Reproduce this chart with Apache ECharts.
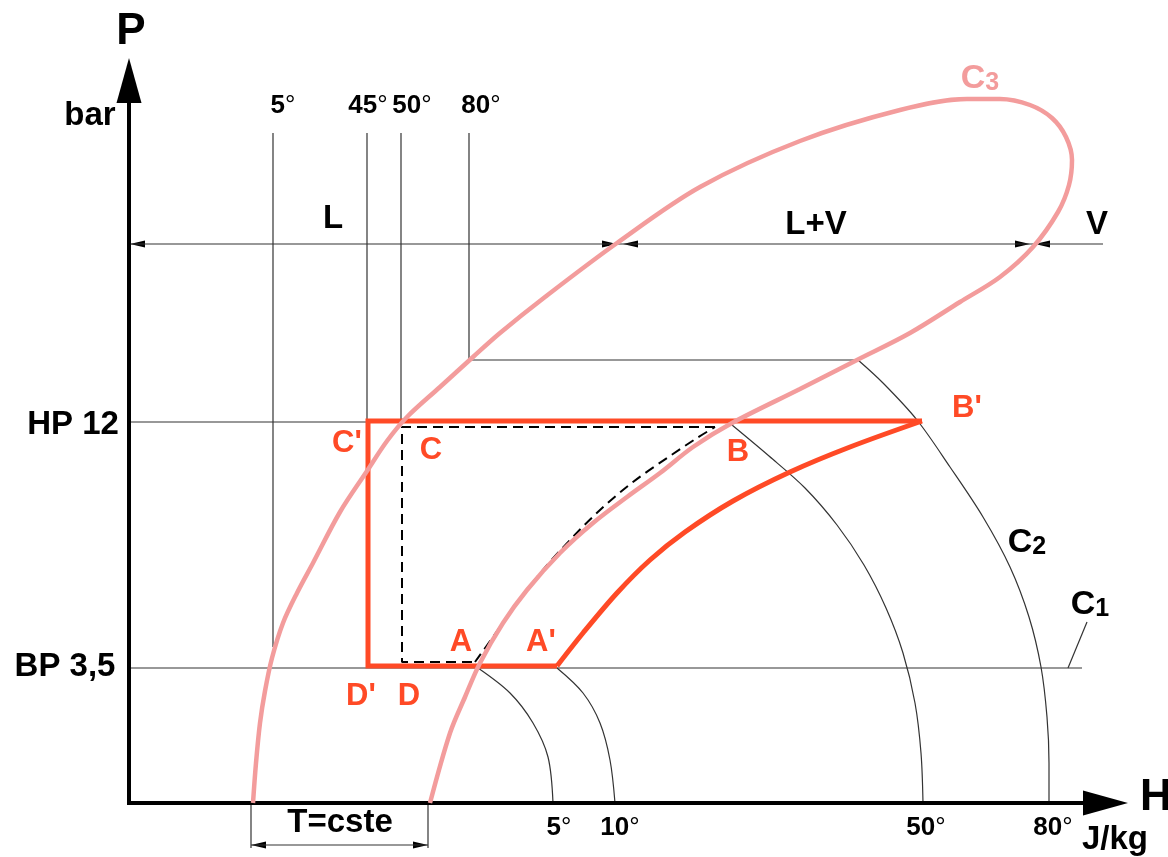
<!DOCTYPE html>
<html>
<head>
<meta charset="utf-8">
<script src="https://cdn.jsdelivr.net/npm/echarts@6/dist/echarts.min.js"></script>
<style>
  html, body { margin: 0; padding: 0; background: #fff; }
  #chart { width: 1168px; height: 857px; }
</style>
</head>
<body>
<div id="chart"></div>
<script>
// Diagram units: H to the right, P upwards, origin at the corner of the axes.

// saturation dome C3 (liquid branch, top, vapour branch)
const domeC3 = [
  [124, 0], [127, 40], [131, 80], [136, 112], [143, 145], [154, 180], [168, 210],
  [184, 240], [211, 291], [238, 332], [258, 362], [278, 386], [311, 416], [344, 446],
  [371, 470], [416, 506], [488, 560], [571, 616], [671, 662], [771, 693], [838, 704],
  [871, 704], [901, 698], [923, 685], [937, 666], [943, 643], [940, 618], [929, 591],
  [904, 556], [871, 526], [831, 501], [781, 470], [728, 443], [671, 414], [603, 380],
  [564, 356], [531, 330], [498, 306], [464, 280], [431, 250], [398, 213], [374, 180],
  [351, 140], [336, 106], [321, 70], [301, 0]
];

// real cycle A'B'C'D'
const realCycle = [[793, 382], [239, 382], [239, 137], [428, 137]];
const realCompression = [
  [428, 137], [454, 170], [488, 210], [521, 243], [556, 271], [604, 302],
  [661, 331], [721, 356], [793, 382]
];

// theoretical cycle ABCD (dashed)
const idealCycle = [[586, 376], [273, 376], [273, 141], [346, 141]];
const idealCompression = [
  [346, 141], [364, 166], [388, 200], [414, 233], [441, 263], [471, 293],
  [504, 321], [538, 345], [568, 365], [586, 376]
];

// isotherms
const iso5 = [[349, 135], [381, 110], [404, 80], [419, 46], [424, 0]];
const iso10 = [[428, 135], [454, 110], [471, 80], [481, 43], [486, 0]];
const iso50 = [[603, 378], [640, 347], [676, 315], [708, 278], [735, 238], [757, 195], [774, 150], [786, 100], [792, 50], [794, 0]];
const iso80Arc = [[729, 443], [754, 420], [788, 383], [821, 336], [854, 286], [881, 236], [900, 186], [912, 136], [918, 86], [920, 40], [920, 0]];
const iso80Liquid = [[340, 670], [340, 443], [729, 443]];

const thinLines = [
  [[144, 670], [144, 156]],          // 5°
  [[238, 670], [238, 381]],          // 45°
  [[272, 670], [272, 381]],          // 50°
  [[0, 381], [238, 381]],            // HP 12
  [[0, 135], [953, 135]],            // BP 3,5
  [[939, 135], [958, 181]],          // C1 leader
  [[0, 559], [974, 559]],            // L / L+V / V
  [[122, 0], [122, -45]],            // T=cste
  [[299, 0], [299, -45]],
  [[122, -42], [299, -42]]
];
const axisLines = [[[0, -2], [0, 705]], [[-2, 0], [960, 0]]];

// arrow tips: [H, P, direction in degrees]
const axisArrows = [[0, 745, 90], [999, 0, 0]];
const dimArrows = [
  [1, 559, 180], [488, 559, 0], [494, 559, 180], [901, 559, 0], [906, 559, 180],
  [122, -42, 180], [299, -42, 0]
];

// texts: [H, P, text]
const axisLetters = [[2, 771, 'P'], [1027, 5, 'H']];
const bigLabels = [
  [-39, 687, 'bar'], [-56, 378, 'HP 12'], [-64, 136, 'BP 3,5'],
  [204, 584, 'L'], [687, 578, 'L+V'], [968, 578, 'V'],
  [211, -20, 'T=cste'], [986, -37, 'J/kg']
];
const tempLabels = [
  [154, 697, '5°'], [239, 697, '45°'], [283, 697, '50°'], [352, 697, '80°'],
  [430, -25, '5°'], [491, -25, '10°'], [797, -25, '50°'], [924, -25, '80°']
];
const pointLabels = [
  [218, 360, "C'"], [302, 353, 'C'], [609, 351, 'B'], [838, 395, "B'"],
  [332, 161, 'A'], [412, 161, "A'"], [232, 107, "D'"], [280, 107, 'D']
];
const curveNames = [[898, 260, 'C2'], [961, 198, 'C1']];
const domeName = [[851, 724, 'C3']];

const INK = '#000';
const THIN = '#333';
const PINK = '#f39c9c';
const RED = '#ff4a26';
const FONT = '"Liberation Sans", Arial, Helvetica, sans-serif';

function path(data, lineStyle, smooth) {
  return {
    type: 'line', data, symbol: 'none', silent: true, clip: false,
    smooth: smooth ? 0.33 : false, lineStyle
  };
}

function arrows(data, len, wid) {
  return {
    type: 'custom', data, silent: true, clip: false,
    renderItem: (params, api) => {
      const tip = api.coord([api.value(0), api.value(1)]);
      const a = api.value(2) * Math.PI / 180;
      const ux = Math.cos(a), uy = -Math.sin(a);
      const bx = tip[0] - ux * len, by = tip[1] - uy * len;
      const px = -uy * wid / 2, py = ux * wid / 2;
      return {
        type: 'polygon',
        shape: { points: [tip, [bx + px, by + py], [bx - px, by - py]] },
        style: { fill: INK }
      };
    }
  };
}

function texts(data, label) {
  return {
    type: 'scatter', data, symbolSize: 1, silent: true, clip: false,
    itemStyle: { color: 'transparent', opacity: 1 },
    label: Object.assign({
      show: true, position: 'inside', align: 'center', verticalAlign: 'middle',
      fontFamily: FONT, fontWeight: 'bold', color: INK, textBorderWidth: 0,
      formatter: p => p.data[2]
    }, label)
  };
}

const thinStyle = { color: THIN, width: 1.2 };

const series = [];
thinLines.forEach(seg => series.push(path(seg, thinStyle)));
series.push(path(iso80Liquid, thinStyle));
[iso5, iso10, iso50, iso80Arc].forEach(c => series.push(path(c, thinStyle, true)));
axisLines.forEach(seg => series.push(path(seg, { color: INK, width: 4 })));

series.push(path(realCycle, { color: RED, width: 5, join: 'miter' }));
series.push(path(realCompression, { color: RED, width: 5 }, true));
series.push(path(idealCycle, { color: INK, width: 2, type: [10, 6] }));
series.push(path(idealCompression, { color: INK, width: 2, type: [10, 6] }, true));
series.push(path(domeC3, { color: PINK, width: 4.5 }, true));

series.push(arrows(axisArrows, 45, 25));
series.push(arrows(dimArrows, 15, 7));

series.push(texts(axisLetters, { fontSize: 44 }));
series.push(texts(bigLabels, { fontSize: 33 }));
series.push(texts(tempLabels, {
  formatter: p => '{n|' + p.data[2].replace('°', '}{d|°}'),
  rich: {
    n: { fontFamily: FONT, fontWeight: 'bold', fontSize: 26, color: INK },
    d: { fontFamily: FONT, fontWeight: 'normal', fontSize: 26, color: INK }
  }
}));
series.push(texts(pointLabels, { fontSize: 31, color: RED }));
const subRich = col => ({
  c: { fontFamily: FONT, fontWeight: 'bold', fontSize: 34, color: col, verticalAlign: 'bottom' },
  s: { fontFamily: FONT, fontWeight: 'bold', fontSize: 25, color: col, verticalAlign: 'bottom' }
});
series.push(texts(curveNames, {
  formatter: p => '{c|' + p.data[2][0] + '}{s|' + p.data[2].slice(1) + '}',
  rich: subRich(INK)
}));
series.push(texts(domeName, {
  formatter: p => '{c|' + p.data[2][0] + '}{s|' + p.data[2].slice(1) + '}',
  rich: subRich(PINK)
}));

const chart = echarts.init(document.getElementById('chart'));
chart.setOption({
  animation: false,
  backgroundColor: '#fff',
  grid: { left: 0, right: 0, top: 0, bottom: 0 },
  xAxis: { type: 'value', min: -129, max: 1039, show: false },
  yAxis: { type: 'value', min: -54, max: 803, show: false },
  series
});
</script>
</body>
</html>
